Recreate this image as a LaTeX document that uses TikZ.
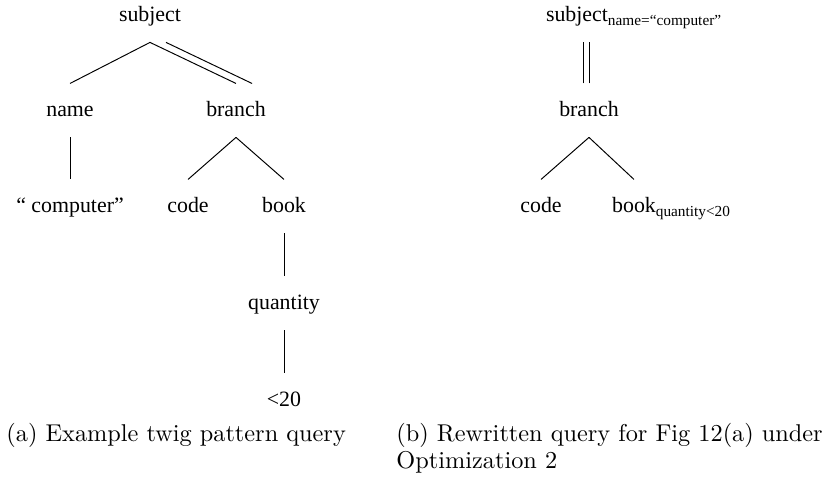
\documentclass[tikz,border=0pt]{standalone}
\usepackage{fontspec}
\newfontfamily\treefont{Liberation Serif}
\newcommand{\subtext}[1]{\raisebox{-1.5pt}{\fontsize{6.3}{7}\selectfont #1}}

\begin{document}
\begin{tikzpicture}
[x=0.4115pt,y=-0.4115pt,every node/.style={inner sep=0pt,anchor=base},
 tree/.style={font=\treefont\fontsize{9}{10}\selectfont,text height=13.6pt,text depth=8.2pt},
 captext/.style={anchor=base west,font=\fontsize{10}{12}\selectfont}]
\useasboundingbox (0,0) rectangle (822,479);
% (a) twig pattern query
\node[tree] (s1) at (150,22) {subject};
\node[tree] (n1) at (70,117) {name};
\node[tree] (b1) at (236,117) {branch};
\node[tree] (c1) at (70,213) {“ computer”};
\node[tree] (co1) at (188,213) {code};
\node[tree] (bk1) at (284,213) {book};
\node[tree] (q1) at (284,310) {quantity};
\node[tree] (v1) at (284,407) {<20};
\foreach \from/\to in {s1/n1,s1/b1,n1/c1,b1/co1,b1/bk1,bk1/q1,q1/v1}
\draw (\from.south) -- (\to.north);
\draw ([xshift=6.6pt]s1.south) -- ([xshift=6.6pt]b1.north);
% (b) rewritten query
\node[tree] (s2) at (577,22) {subject\rlap{\subtext{name=“computer”}}};
\node[tree] (b2) at (589,117) {branch};
\node[tree] (co2) at (541,213) {code};
\node[tree] (bk2) at (634,213) {book\rlap{\subtext{quantity<20}}};
\draw (b2.north) -- (b2.north |- s2.south);
\draw ([xshift=-2.3pt]b2.north) -- ([xshift=-2.3pt]b2.north |- s2.south);
\foreach \from/\to in {b2/co2,b2/bk2}
\draw (\from.south) -- (\to.north);
% captions
\node[captext] (capa) at (6,442) {(a) Example twig pattern query};
\node[captext] (capb1) at (396,442) {(b) Rewritten query for Fig 12(a) under};
\node[captext] (capb2) at (396,468) {Optimization 2};
\end{tikzpicture}
\end{document}
